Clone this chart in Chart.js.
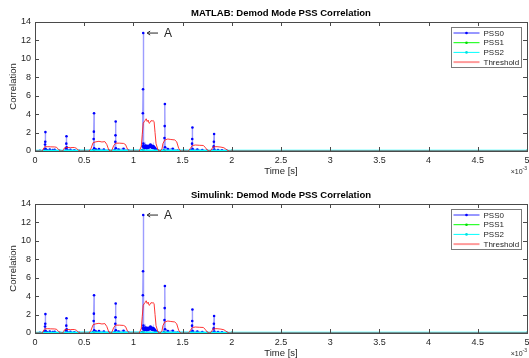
<!DOCTYPE html>
<html>
<head>
<meta charset="utf-8">
<script src="https://cdn.jsdelivr.net/npm/chart.js@4.4.1/dist/chart.umd.min.js"></script>
<style>
  html, body { margin: 0; padding: 0; background: #ffffff; }
  .plot { position: absolute; left: 0; }
</style>
</head>
<body>
<canvas id="matlabPlot" class="plot" width="529" height="176" style="top:0"></canvas>
<canvas id="simulinkPlot" class="plot" width="529" height="176" style="top:182px"></canvas>
<script>
// ---- data (time in ms, scaled to seconds when building points) ----
const seriesLabels = ['PSS0', 'PSS1', 'PSS2', 'Threshold'];
const xTickLabels = ['0', '0.5', '1', '1.5', '2', '2.5', '3', '3.5', '4', '4.5', '5'];
const yTickLabels = ['0', '2', '4', '6', '8', '10', '12', '14'];

const pss0Time = [
  0, 0.05, 0.09, 0.100, 0.102, 0.104, 0.106, 0.108, 0.12, 0.15, 0.18, 0.20, 0.25,
  0.31, 0.316, 0.318, 0.320, 0.322, 0.33, 0.36, 0.40, 0.45,
  0.59, 0.596, 0.598, 0.600, 0.602, 0.62, 0.65, 0.70, 0.75,
  0.81, 0.816, 0.818, 0.820, 0.822, 0.85, 0.90, 0.95,
  1.09, 1.094, 1.096, 1.098, 1.100, 1.102, 1.106, 1.110, 1.114, 1.118, 1.122, 1.126, 1.130,
  1.134, 1.138, 1.142, 1.146, 1.150, 1.154, 1.158, 1.162, 1.166, 1.170, 1.174, 1.178,
  1.182, 1.186, 1.190, 1.194, 1.198, 1.202, 1.206, 1.210, 1.214, 1.218, 1.222, 1.23, 1.25,
  1.31, 1.316, 1.318, 1.320, 1.322, 1.35, 1.40, 1.45,
  1.59, 1.596, 1.598, 1.600, 1.602, 1.65, 1.70, 1.75,
  1.81, 1.816, 1.818, 1.820, 1.822, 1.86, 1.90, 1.95, 2.0, 5.0
];
const pss0Val = [
  0, 0.02, 0.05, 0.15, 0.7, 1.0, 2.05, 0.2, 0.1, 0.15, 0.1, 0.12, 0.02,
  0.05, 0.3, 0.8, 1.6, 0.4, 0.1, 0.12, 0.08, 0.02,
  0.1, 1.3, 2.1, 4.1, 0.3, 0.15, 0.2, 0.15, 0.05,
  0.1, 1.0, 1.7, 3.2, 0.3, 0.15, 0.25, 0.05,
  0.1, 0.5, 4.1, 6.7, 12.8, 0.8, 0.4, 0.55, 0.3, 0.5, 0.35, 0.6, 0.4,
  0.5, 0.3, 0.55, 0.45, 0.35, 0.5, 0.4, 0.6, 0.45, 0.55, 0.7, 0.5,
  0.4, 0.6, 0.35, 0.5, 0.45, 0.3, 0.5, 0.35, 0.4, 0.25, 0.3, 0.15, 0.05,
  0.1, 1.4, 2.7, 5.1, 0.4, 0.2, 0.25, 0.05,
  0.1, 0.8, 1.3, 2.55, 0.2, 0.15, 0.1, 0.02,
  0.05, 0.5, 1.0, 1.85, 0.15, 0.1, 0.08, 0.02, 0, 0
];

const pss1Time = [0, 0.6, 1.1, 1.32, 2.0, 5.0];
const pss1Val = [0, 0.02, 0.04, 0.02, 0, 0];

const pss2Time = [0, 0.6, 1.1, 1.32, 2.0, 5.0];
const pss2Val = [0, 0.02, 0.03, 0.02, 0, 0];

const thrTime = [
  0, 0.07, 0.08, 0.09, 0.10, 0.13, 0.16, 0.20, 0.22, 0.24, 0.26,
  0.28, 0.29, 0.30, 0.33, 0.36, 0.40, 0.42, 0.44, 0.46,
  0.55, 0.57, 0.59, 0.62, 0.65, 0.68, 0.71, 0.73, 0.75, 0.77,
  0.78, 0.80, 0.82, 0.86, 0.90, 0.92, 0.94, 0.96,
  1.06, 1.08, 1.09, 1.10, 1.11, 1.12, 1.13, 1.14, 1.15, 1.16, 1.17, 1.18, 1.19, 1.20, 1.21, 1.22, 1.23, 1.25, 1.27,
  1.29, 1.30, 1.32, 1.35, 1.38, 1.42, 1.44, 1.46, 1.48,
  1.56, 1.58, 1.60, 1.63, 1.67, 1.71, 1.73, 1.75, 1.77,
  1.79, 1.81, 1.85, 1.89, 1.92, 1.94, 1.96, 1.98, 5.0
];
const thrVal = [
  0, 0, 0.1, 0.35, 0.45, 0.47, 0.45, 0.44, 0.4, 0.15, 0,
  0, 0.15, 0.35, 0.38, 0.37, 0.38, 0.3, 0.1, 0,
  0, 0.3, 0.9, 1.0, 1.05, 0.98, 1.02, 0.7, 0.1, 0,
  0.05, 0.6, 0.85, 0.85, 0.82, 0.7, 0.2, 0,
  0, 0.5, 1.8, 3.0, 3.2, 3.3, 3.5, 3.2, 3.35, 3.0, 3.1, 3.3, 3.25, 3.3, 3.2, 2.0, 0.8, 0.1, 0,
  0.2, 0.8, 1.2, 1.3, 1.25, 1.2, 1.0, 0.3, 0,
  0, 0.3, 0.6, 0.65, 0.62, 0.6, 0.4, 0.1, 0,
  0.1, 0.45, 0.47, 0.42, 0.35, 0.2, 0.05, 0, 0
];

// annotation "A" next to the main peak
const peakTime = 1.1;
const peakValue = 12.8;

const toPoints = (t, v) => t.map((ms, i) => ({ x: ms / 1000, y: v[i] }));

const FONT = 'Arial, "Liberation Sans", Helvetica, sans-serif';
const AXIS_COLOR = '#4a4a4a';
const TEXT_COLOR = '#262626';

// draws MATLAB-like box, inner ticks, titles, legend and the "A" marker
const matlabAxes = {
  id: 'matlabAxes',
  afterDraw(chart) {
    const ctx = chart.ctx;
    const a = chart.chartArea;
    const xs = chart.scales.x, ys = chart.scales.y;
    const title = chart.options.plugins.matlabAxes.title;
    ctx.save();

    // box
    ctx.strokeStyle = AXIS_COLOR;
    ctx.lineWidth = 1;
    ctx.strokeRect(Math.round(a.left) + 0.5, Math.round(a.top) + 0.5,
      Math.round(a.right - a.left), Math.round(a.bottom - a.top));

    // inner tick marks
    ctx.beginPath();
    xs.ticks.forEach(t => {
      const px = Math.round(xs.getPixelForValue(t.value)) + 0.5;
      ctx.moveTo(px, a.bottom); ctx.lineTo(px, a.bottom - 4);
      ctx.moveTo(px, a.top); ctx.lineTo(px, a.top + 4);
    });
    ys.ticks.forEach(t => {
      const py = Math.round(ys.getPixelForValue(t.value)) + 0.5;
      ctx.moveTo(a.left, py); ctx.lineTo(a.left + 4, py);
      ctx.moveTo(a.right, py); ctx.lineTo(a.right - 4, py);
    });
    ctx.stroke();

    // title
    ctx.fillStyle = '#000000';
    ctx.font = 'bold 9.5px ' + FONT;
    ctx.textAlign = 'center';
    ctx.textBaseline = 'middle';
    ctx.fillText(title, (a.left + a.right) / 2, 13.5);

    // axis labels
    ctx.fillStyle = TEXT_COLOR;
    ctx.font = '9.5px ' + FONT;
    ctx.fillText('Time [s]', (a.left + a.right) / 2, a.bottom + 20);
    ctx.save();
    ctx.translate(13, (a.top + a.bottom) / 2);
    ctx.rotate(-Math.PI / 2);
    ctx.fillText('Correlation', 0, 0);
    ctx.restore();

    // exponent
    ctx.textAlign = 'right';
    ctx.font = '5px ' + FONT;
    ctx.fillText('-3', a.right, a.bottom + 18);
    const supW = ctx.measureText('-3').width;
    ctx.font = '7px ' + FONT;
    ctx.fillText('\u00d710', a.right - supW, a.bottom + 21);

    // "A" arrow
    const ay = ys.getPixelForValue(peakValue);
    const tipX = xs.getPixelForValue((peakTime + 0.04) / 1000);
    const tailX = xs.getPixelForValue((peakTime + 0.15) / 1000);
    ctx.strokeStyle = TEXT_COLOR;
    ctx.beginPath();
    ctx.moveTo(tailX, ay); ctx.lineTo(tipX, ay);
    ctx.moveTo(tipX + 3, ay - 2); ctx.lineTo(tipX, ay); ctx.lineTo(tipX + 3, ay + 2);
    ctx.stroke();
    ctx.font = '12px ' + FONT;
    ctx.textAlign = 'left';
    ctx.fillText('A', tailX + 6, ay + 1);

    // legend
    const bw = 70, bh = 40;
    const bx = Math.round(a.right - bw - 6) + 0.5, by = Math.round(a.top + 5) + 0.5;
    ctx.fillStyle = '#ffffff';
    ctx.fillRect(bx, by, bw, bh);
    ctx.strokeStyle = '#7a7a7a';
    ctx.strokeRect(bx, by, bw, bh);
    ctx.font = '8px ' + FONT;
    ctx.textBaseline = 'middle';
    chart.data.datasets.forEach((ds, i) => {
      const ry = by + 5.5 + i * 9.7;
      ctx.strokeStyle = ds.legendColor;
      ctx.lineWidth = ds.legendWidth;
      ctx.beginPath();
      ctx.moveTo(bx + 2, ry); ctx.lineTo(bx + 28, ry);
      ctx.stroke();
      if (ds.pointRadius > 0) {
        ctx.fillStyle = ds.pointBackgroundColor;
        ctx.beginPath();
        ctx.arc(bx + 15, ry, 1.3, 0, Math.PI * 2);
        ctx.fill();
      }
      ctx.fillStyle = TEXT_COLOR;
      ctx.fillText(ds.label, bx + 32, ry + 0.5);
    });
    ctx.restore();
  }
};

function makeChart(canvasId, title) {
  const ctx = document.getElementById(canvasId).getContext('2d');
  return new Chart(ctx, {
    type: 'line',
    data: {
      datasets: [
        {
          label: seriesLabels[0], data: toPoints(pss0Time, pss0Val),
          borderColor: 'rgba(60,60,255,0.5)', borderWidth: 1.4,
          pointRadius: 1.3, pointBackgroundColor: '#0000ff', pointBorderWidth: 0,
          legendColor: '#3030ff', legendWidth: 1, order: 3
        },
        {
          label: seriesLabels[1], data: toPoints(pss1Time, pss1Val),
          borderColor: '#00ff00', borderWidth: 1.5,
          pointRadius: 1.3, pointBackgroundColor: '#00dd00', pointBorderWidth: 0,
          legendColor: '#00ff00', legendWidth: 1, order: 2
        },
        {
          label: seriesLabels[2], data: toPoints(pss2Time, pss2Val),
          borderColor: '#00ffff', borderWidth: 2.5,
          pointRadius: 1.3, pointBackgroundColor: '#00e0e0', pointBorderWidth: 0,
          legendColor: '#00ffff', legendWidth: 1, order: 1
        },
        {
          label: seriesLabels[3], data: toPoints(thrTime, thrVal),
          borderColor: 'rgba(255,20,20,0.85)', borderWidth: 1,
          pointRadius: 0,
          legendColor: '#ff9a9a', legendWidth: 2, order: 0
        }
      ]
    },
    options: {
      responsive: false,
      animation: false,
      devicePixelRatio: 1,
      layout: { autoPadding: false, padding: { top: 22, right: 2, left: 0, bottom: 0 } },
      plugins: {
        legend: { display: false },
        tooltip: { enabled: false },
        title: { display: false },
        matlabAxes: { title }
      },
      scales: {
        x: {
          type: 'linear', min: 0, max: 0.005,
          grid: { display: false, drawTicks: false },
          border: { display: false },
          ticks: {
            stepSize: 0.0005, padding: 4, maxRotation: 0, autoSkip: false,
            color: TEXT_COLOR, font: { family: FONT, size: 9 },
            callback: (v, i) => xTickLabels[i]
          },
          afterFit: s => { s.height = 25; s.paddingLeft = 0; s.paddingRight = 0; }
        },
        y: {
          min: 0, max: 14,
          grid: { display: false, drawTicks: false },
          border: { display: false },
          ticks: {
            stepSize: 2, padding: 4,
            color: TEXT_COLOR, font: { family: FONT, size: 9 },
            callback: (v, i) => yTickLabels[i]
          },
          afterFit: s => { s.width = 35; s.paddingTop = 0; s.paddingBottom = 0; }
        }
      }
    },
    plugins: [matlabAxes]
  });
}

makeChart('matlabPlot', 'MATLAB: Demod Mode PSS Correlation');
makeChart('simulinkPlot', 'Simulink: Demod Mode PSS Correlation');
</script>
</body>
</html>
